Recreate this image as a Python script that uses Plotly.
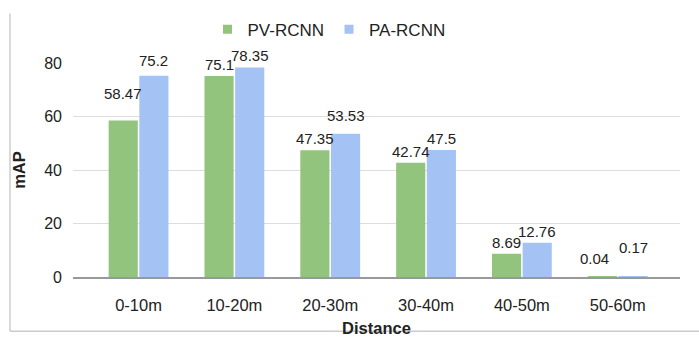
import plotly.graph_objects as go

# mAP by distance range for two detectors
distances = ["0-10m", "10-20m", "20-30m", "30-40m", "40-50m", "50-60m"]
pv_rcnn = [58.47, 75.1, 47.35, 42.74, 8.69, 0.04]
pa_rcnn = [75.2, 78.35, 53.53, 47.5, 12.76, 0.17]
y_ticks = [0, 20, 40, 60, 80]

FONT = "Liberation Sans, Arial, sans-serif"
GREEN = "#93c47d"
BLUE = "#a4c2f4"
BARGAP = 0.36

# extra lift / sideways nudge (px) for value labels that would crowd
label_lift = {("PV-RCNN", "0-10m"): 16, ("PA-RCNN", "0-10m"): 4,
              ("PA-RCNN", "20-30m"): 7, ("PV-RCNN", "50-60m"): 7,
              ("PA-RCNN", "50-60m"): 18}
label_nudge = {("PV-RCNN", "50-60m"): -8}

# plot-area geometry in pixels (used for the outer frame lines)
W, H = 699, 337
L, R, T, B = 73, 19, 52, 60
pw, ph = W - L - R, H - T - B


def px_x(x):
    return (x - L) / pw


def px_y(y):
    return (H - B - y) / ph


fig = go.Figure()
series = [("PV-RCNN", pv_rcnn, GREEN, -1), ("PA-RCNN", pa_rcnn, BLUE, 1)]
slot = (1 - BARGAP) / 4  # half the width of one bar slot in category units

for name, vals, color, side in series:
    fig.add_bar(name=name, x=distances, y=vals, marker_color=color,
                marker_line_width=0, showlegend=False)
    # legend proxy with a small square swatch
    fig.add_scatter(name=name, x=[None], y=[None], mode="markers",
                    marker=dict(symbol="square", size=9, color=color))
    for i, (cat, v) in enumerate(zip(distances, vals)):
        fig.add_annotation(
            x=i + side * slot, y=v, xref="x", yref="y",
            text=f"{v:g}", showarrow=False, yanchor="bottom",
            yshift=1 + label_lift.get((name, cat), 0),
            xshift=label_nudge.get((name, cat), 0),
            font=dict(size=15, color="#222"),
        )

# light frame on the left and bottom edges
frame = dict(type="line", xref="paper", yref="paper",
             line=dict(color="#cccccc", width=1.5))
fig.add_shape(**frame, x0=px_x(10), x1=px_x(10), y0=px_y(0), y1=px_y(334))
fig.add_shape(**frame, x0=px_x(10), x1=px_x(699), y0=px_y(334), y1=px_y(334))

fig.update_layout(
    width=W, height=H,
    margin=dict(l=L, r=R, t=T, b=B, pad=0),
    paper_bgcolor="white", plot_bgcolor="white",
    font=dict(family=FONT, size=16, color="#222"),
    barmode="group", bargap=BARGAP, bargroupgap=0.05,
    legend=dict(orientation="h", x=px_x(329), xanchor="center",
                y=px_y(17), yanchor="middle",
                font=dict(size=17, color="#222"), itemsizing="trace",
                itemwidth=30, traceorder="normal"),
    xaxis=dict(
        range=[-0.684, 5.65], showgrid=False, zeroline=False,
        showline=True, linecolor="#999999", linewidth=1.5,
        ticks="", ticklabelstandoff=12, tickfont=dict(size=16.5),
        automargin=False,
        title=dict(text="<b>Distance</b>", font=dict(size=16.5), standoff=10),
    ),
    yaxis=dict(
        range=[0, 80], tickvals=y_ticks, showgrid=True,
        gridcolor="#dddddd", gridwidth=1, zeroline=False,
        ticks="", ticklabelstandoff=10, tickfont=dict(size=16),
        automargin=False,
        title=dict(text="<b>mAP</b>", font=dict(size=16.5), standoff=14),
    ),
)

fig.write_html("out.html")
